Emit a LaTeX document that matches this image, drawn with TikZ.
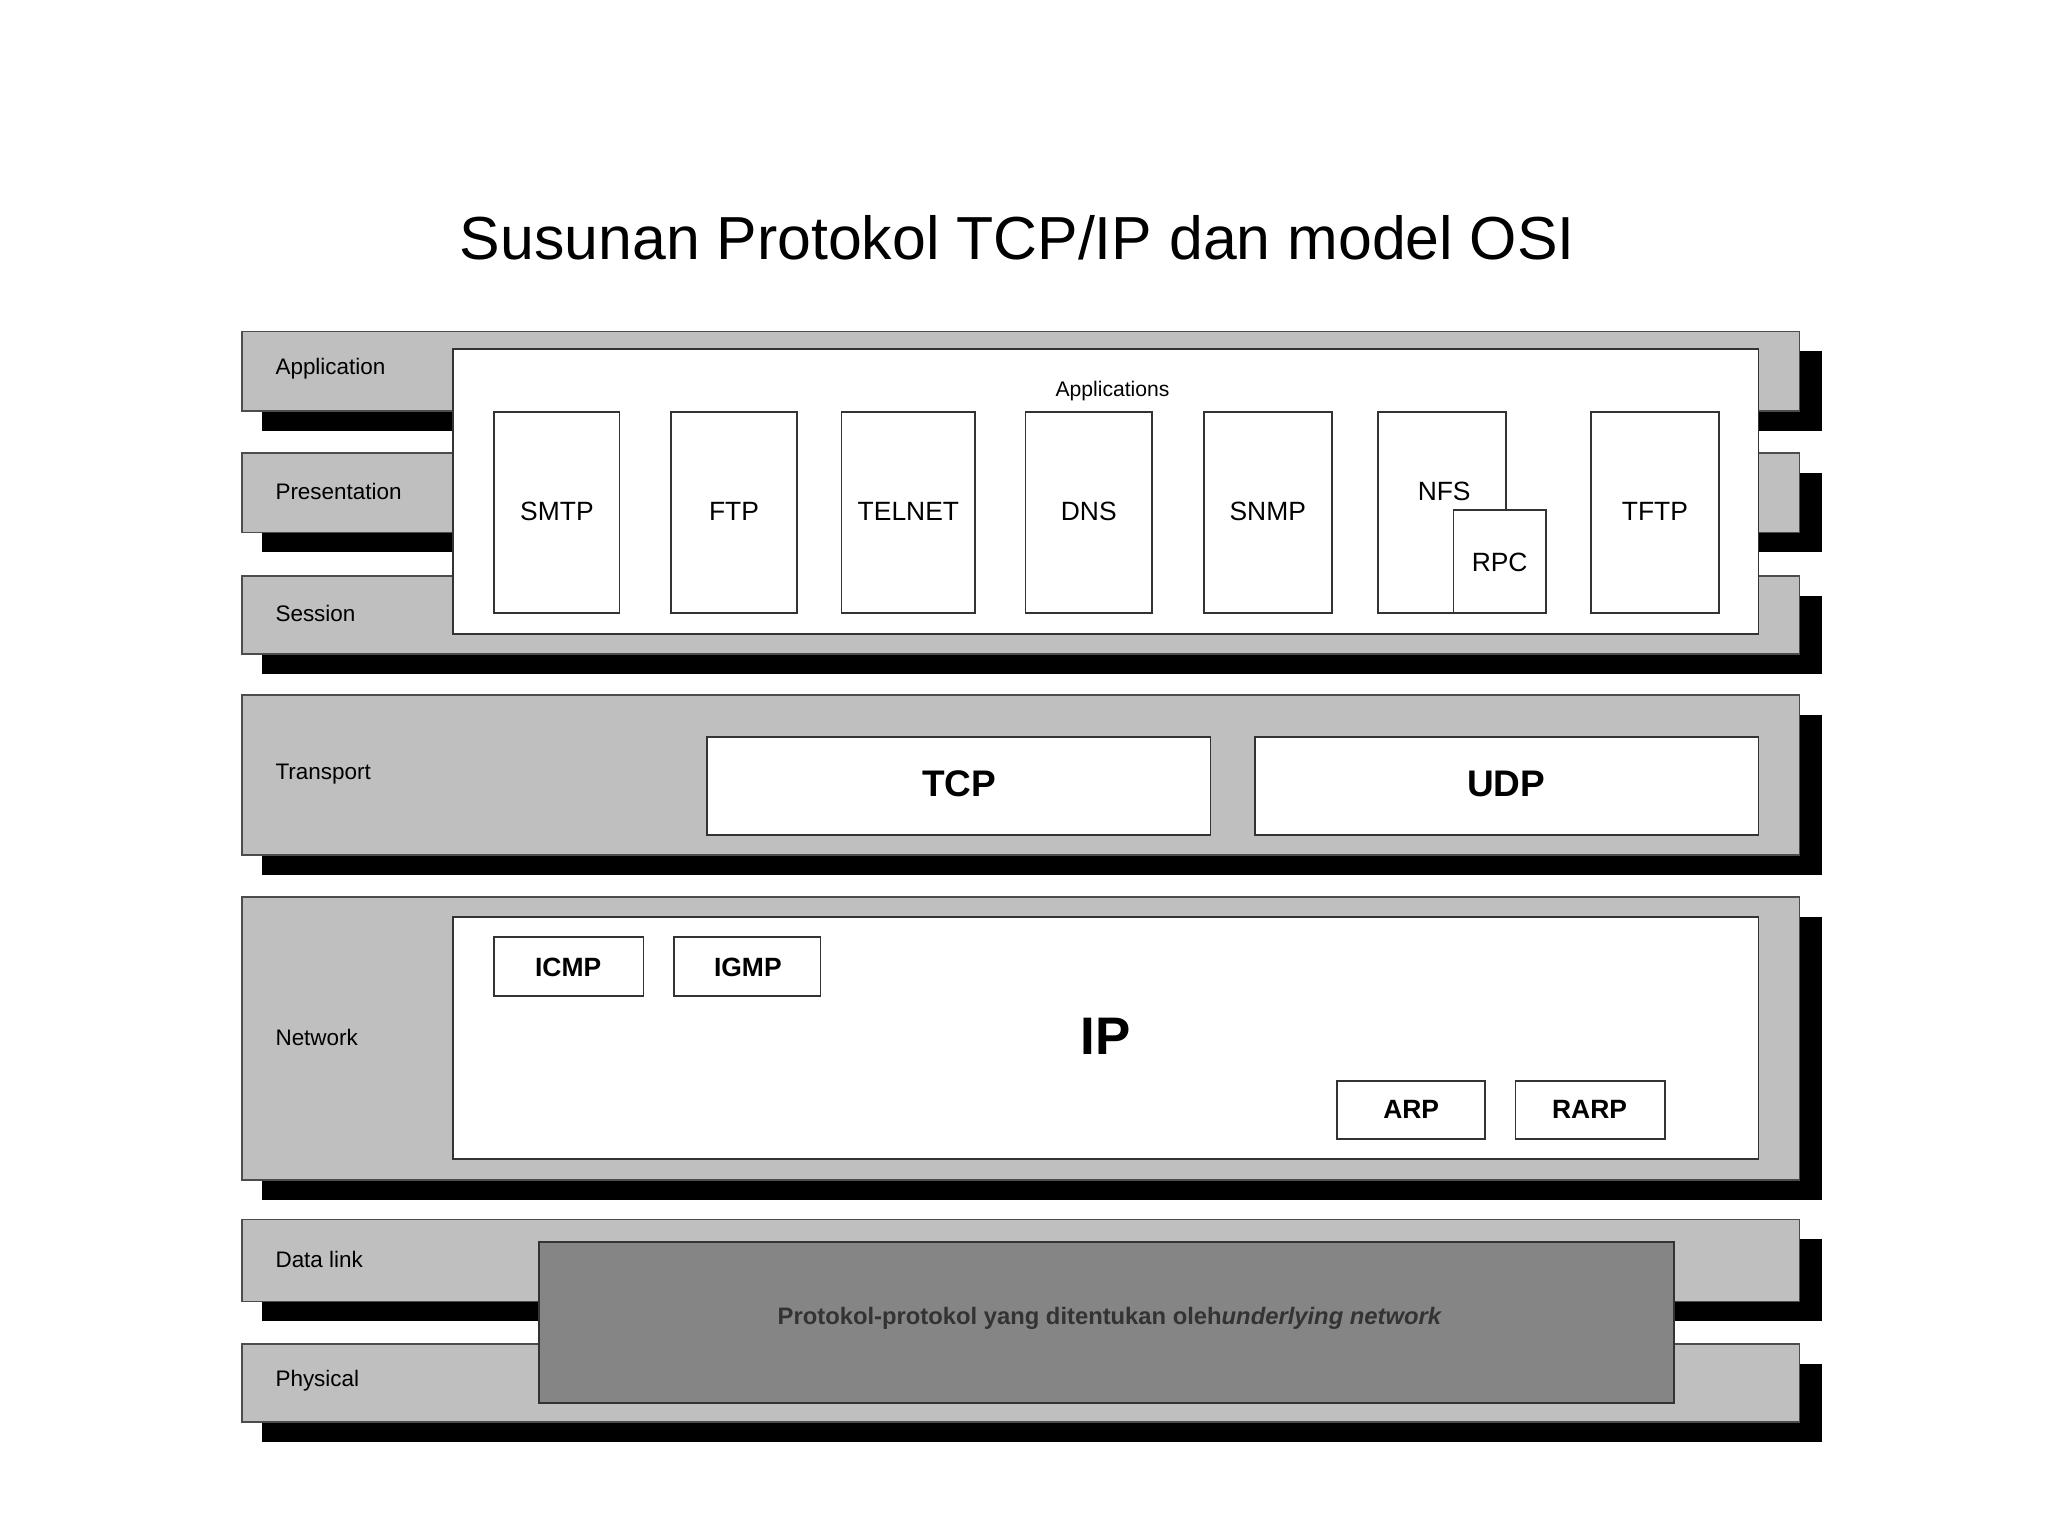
\documentclass[tikz,border=0pt]{standalone}
\usepackage{fontspec}
\setmainfont{Liberation Sans}
\begin{document}
\begin{tikzpicture}[x=1pt,y=-1pt,
  layer/.style={draw=black!70,fill=black!25,line width=1.2},
  shadow/.style={fill=black},
  wbox/.style={draw=black!80,fill=white,line width=1.2},
  lbl/.style={anchor=west,font=\fontsize{17}{20}\selectfont},
  ptxt/.style={font=\fontsize{20}{24}\selectfont},
  btxt/.style={font=\fontsize{20}{24}\selectfont\bfseries}]
\useasboundingbox (0,0) rectangle (1550,1162);
\node[font=\fontsize{46}{54}\selectfont] (title) at (770,180) {Susunan Protokol TCP/IP dan model OSI};
% shadows
\foreach \a/\b in {251/311,343/403,436/495,526/647,679/893,923/985,1017/1076}
  \fill[shadow] (198,\a+15) rectangle (1379,\b+15);
% layers
\foreach \a/\b/\t in {251/311/Application,343/403/Presentation,436/495/Session,526/647/Transport,679/893/Network,923/985/Data link,1017/1076/Physical}{
  \draw[layer] (183,\a) rectangle (1362,\b);
}
\node[lbl] (l1) at (205,279) {Application};
\node[lbl] (l2) at (205,372) {Presentation};
\node[lbl] (l3) at (205,464) {Session};
\node[lbl] (l4) at (205,586) {Transport};
\node[lbl] (l5) at (205,785) {Network};
\node[lbl] (l6) at (205,953) {Data link};
\node[lbl] (l7) at (205,1045) {Physical};
% applications
\draw[wbox] (343,264) rectangle (1331,480);
\node[font=\fontsize{16}{20}\selectfont] (apps) at (842,296) {Applications};
\foreach \x/\y/\t in {374/469/SMTP,508/603/FTP,637/738/TELNET,776/872/DNS,911/1008/SNMP,1204/1301/TFTP}{
  \draw[wbox] (\x,312) rectangle (\y,464);
  \node[ptxt] at ({(\x+\y)/2},387) {\t};
}
\draw[wbox] (1043,312) rectangle (1140,464);
\node[ptxt] (nfs) at (1093,372) {NFS};
\draw[wbox] (1100,386) rectangle (1170,464);
\node[ptxt] (rpc) at (1135,426) {RPC};
% transport
\draw[wbox] (535,558) rectangle (916,632);
\node[font=\fontsize{28}{32}\selectfont\bfseries] (tcp) at (726,593) {TCP};
\draw[wbox] (950,558) rectangle (1331,632);
\node[font=\fontsize{28}{32}\selectfont\bfseries] (udp) at (1140,593) {UDP};
% network
\draw[wbox] (343,694) rectangle (1331,877);
\node[font=\fontsize{40}{46}\selectfont\bfseries] (ip) at (837,784) {IP};
\draw[wbox] (374,709) rectangle (487,754); \node[btxt] (icmp) at (430,732) {ICMP};
\draw[wbox] (510,709) rectangle (621,754); \node[btxt] (igmp) at (566,732) {IGMP};
\draw[wbox] (1012,818) rectangle (1124,862); \node[btxt] (arp) at (1068,840) {ARP};
\draw[wbox] (1147,818) rectangle (1260,862); \node[btxt] (rarp) at (1203,840) {RARP};
% underlying
\draw[draw=black!80,fill=black!48,line width=1.2] (408,940) rectangle (1267,1062);
\node[font=\fontsize{18}{22}\selectfont\bfseries,text=black!80] (under) at (840,998) {Protokol-protokol yang ditentukan oleh\textit{underlying network}};
\end{tikzpicture}
\end{document}
